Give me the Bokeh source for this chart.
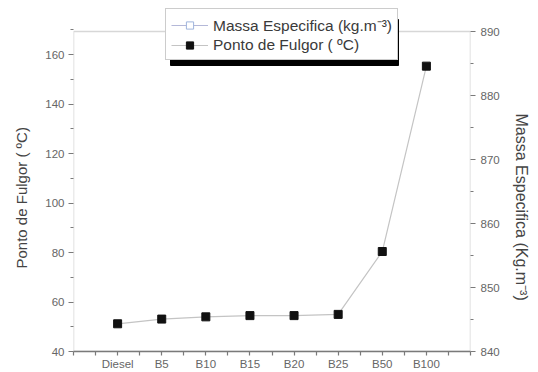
from bokeh.plotting import figure
from bokeh.models import (Range1d, LinearAxis, FixedTicker, Legend, LegendItem,
                          ColumnDataSource, BoxAnnotation, Title)
from bokeh.embed import file_html
from bokeh.resources import INLINE

categories = ["Diesel", "B5", "B10", "B15", "B20", "B25", "B50", "B100"]
ponto_fulgor = [51.2, 53.1, 54.0, 54.5, 54.5, 55.0, 80.4, 155.3]
massa_especifica = []  # series listed in legend, no points visible in the reference
left_ticks = [40, 60, 80, 100, 120, 140, 160]
right_ticks = [840, 850, 860, 870, 880, 890]

left_lo, left_hi = 40, 169.3
right_lo, right_hi = 840, 890

# the frame is extended above the visible box so that the legend can overlap the box top
PLOT_H = 320
EXTRA_TOP = 27
left_top = left_hi + (left_hi - left_lo) * EXTRA_TOP / PLOT_H
right_top = right_hi + (right_hi - right_lo) * EXTRA_TOP / PLOT_H

xs = list(range(1, len(categories) + 1))
FONT = "Liberation Sans"
AXIS_COLOR = "#7a7a7a"

p = figure(width=538, height=372, output_backend="svg", toolbar_location=None,
           x_range=Range1d(0, len(categories) + 1), y_range=Range1d(left_lo, left_top),
           min_border_left=72, min_border_right=66, min_border_top=4, min_border_bottom=21)
p.extra_y_ranges = {"massa": Range1d(right_lo, right_top)}
p.grid.visible = False
p.outline_line_color = None
p.background_fill_color = "white"
p.border_fill_color = "white"

right_axis = LinearAxis(y_range_name="massa")
p.add_layout(right_axis, "right")

def style_axis(ax):
    ax.axis_line_color = AXIS_COLOR
    ax.axis_line_width = 1.5
    ax.major_tick_line_color = AXIS_COLOR
    ax.minor_tick_line_color = AXIS_COLOR
    ax.major_tick_line_width = 1.2
    ax.minor_tick_line_width = 1.2
    ax.major_tick_in = 0
    ax.major_tick_out = 5
    ax.minor_tick_in = 0
    ax.minor_tick_out = 3
    ax.major_label_text_font = FONT
    ax.major_label_text_font_size = "11.5px"
    ax.major_label_text_color = "#666666"

xaxis = p.xaxis[0]
yaxis = p.yaxis[0]
for ax in (xaxis, yaxis, right_axis):
    style_axis(ax)

xticks = list(range(0, len(categories) + 2))
xaxis.ticker = FixedTicker(ticks=xticks, minor_ticks=[t + 0.5 for t in xticks[:-1]])
overrides = {t: "" for t in xticks}
overrides.update({x: c for x, c in zip(xs, categories)})
xaxis.major_label_overrides = overrides
xaxis.major_label_standoff = 2
xaxis.major_tick_out = 4
xaxis.minor_tick_out = 4

yaxis.ticker = FixedTicker(ticks=left_ticks, minor_ticks=[t + 10 for t in left_ticks])
yaxis.major_label_standoff = 4
yaxis.axis_line_color = None

right_axis.ticker = FixedTicker(ticks=right_ticks, minor_ticks=[t + 5 for t in right_ticks[:-1]])
right_axis.major_label_standoff = 5
right_axis.axis_line_color = None

# axis titles (side titles so they can sit lower than the frame centre, as in the original)
p.add_layout(Title(text="Ponto de Fulgor ( ºC)", align="left", offset=83, vertical_align="middle",
                   text_font=FONT, text_font_size="15px", text_font_style="normal",
                   text_color="#444444", standoff=23), "left")
p.add_layout(Title(text="Massa Especifica (Kg.m⁻³)", align="left", offset=109, vertical_align="top",
                   text_font=FONT, text_font_size="16px", text_font_style="normal",
                   text_color="#444444", standoff=17), "right")

# visible plot box (the frame outline of the original)
p.add_layout(BoxAnnotation(left=0, right=len(categories) + 1, bottom=left_lo, top=left_hi,
                           fill_color=None, fill_alpha=0, line_color=AXIS_COLOR, line_width=1.5,
                           level="underlay"))

src = ColumnDataSource(dict(x=xs, y=ponto_fulgor))
# the Massa series has no visible points: a single NaN placeholder keeps its legend glyph drawable
m_y = massa_especifica if massa_especifica else [float("nan")]
src_m = ColumnDataSource(dict(x=list(range(1, len(m_y) + 1)), y=m_y))

r_m_line = p.line("x", "y", source=src_m, y_range_name="massa", line_color="#b4b8d8", line_width=1.2)
r_m_pts = p.scatter("x", "y", source=src_m, y_range_name="massa", marker="square", size=7,
                    fill_color="white", line_color="#9fb4dc", line_width=1)
r_line = p.line("x", "y", source=src, line_color="#c4c4c4", line_width=1.2)
r_pts = p.scatter("x", "y", source=src, marker="square", size=8, fill_color="#111111", line_color="#111111")

# legend drop shadow (screen units, relative to the frame's bottom-left corner)
LEG_X, LEG_Y, LEG_W, LEG_H, SHADOW = 92, 291, 228, 46, 5
p.add_layout(BoxAnnotation(left=LEG_X + SHADOW, right=LEG_X + SHADOW + LEG_W,
                           bottom=LEG_Y - SHADOW, top=LEG_Y - SHADOW + LEG_H,
                           left_units="screen", right_units="screen",
                           bottom_units="screen", top_units="screen",
                           fill_color="black", fill_alpha=1, line_color="black", line_alpha=1))

labels = ["Massa Especifica (kg.m⁻³)", "Ponto de Fulgor ( ºC)"]
items = [LegendItem(label=labels[0], renderers=[r_m_line, r_m_pts]),
         LegendItem(label=labels[1], renderers=[r_line, r_pts])]
legend = Legend(items=items, location=(LEG_X, LEG_Y),
                padding=5, margin=0, spacing=0, glyph_width=37, glyph_height=18,
                label_height=18, label_standoff=5,
                label_text_font=FONT, label_text_font_size="15.5px",
                label_text_color="#3a3a3a",
                background_fill_color="white", background_fill_alpha=1.0,
                border_line_color="#9a9a9a", border_line_width=1)
p.add_layout(legend)

open("out.html", "w").write(file_html(p, INLINE))
